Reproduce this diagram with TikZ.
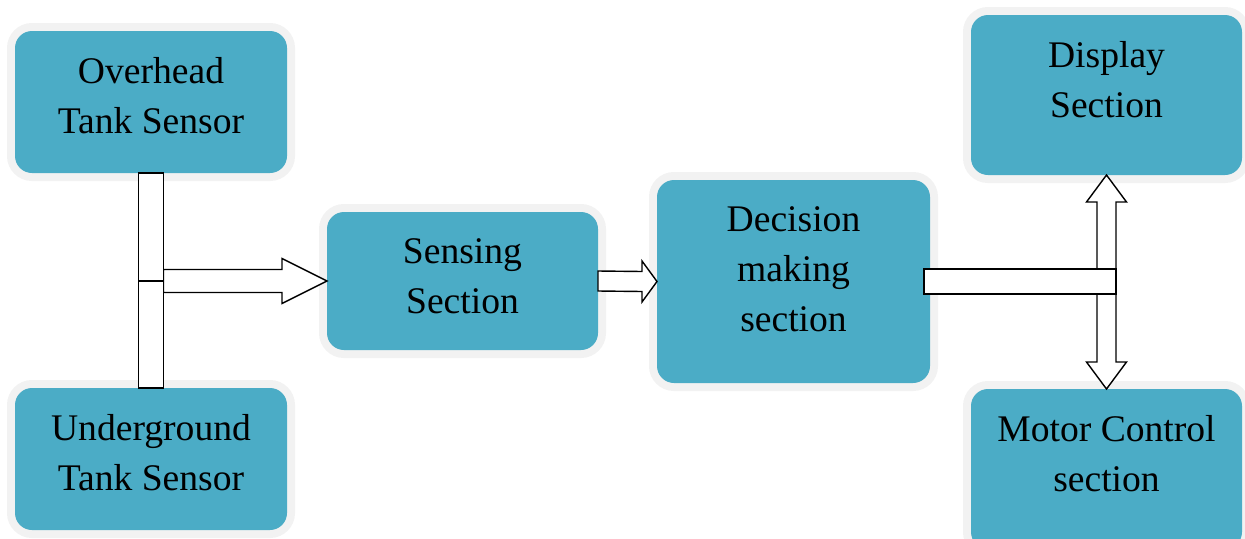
\documentclass[tikz,border=0pt]{standalone}
\usepackage{fontspec}
\setmainfont{Liberation Serif}
\usetikzlibrary{positioning}
\definecolor{boxblue}{HTML}{4BACC6}

\begin{document}
\begin{tikzpicture}[
        x=0.02cm, y=-0.02cm,
        block/.style={
            % The shape:
            rectangle,
            rounded corners=0.34cm,
            outer sep=0pt,
            % The border (a pale halo)
            preaction={draw=black!5, line width=0.32cm},
            % The filling
            fill=boxblue
        },
        caption/.style={
            inner sep=0pt,
            align=center,
            % Font
            font=\fontsize{21.4}{28.4}\selectfont
        },
        pipe/.style={
            % The border
            thick,
            draw=black,
            % The filling
            fill=white
        }]

        \useasboundingbox (0,0) rectangle (1245,538);

        \foreach \name/\x/\y/\w/\h/\words in {
            over/151/102/272/142/{Overhead\\Tank Sensor},
            under/151/459/272/142/{Underground\\Tank Sensor},
            sens/462.5/281/271/138/{Sensing\\Section},
            dec/793.5/281.5/273/203/{Decision\\making\\section},
            disp/1106.5/95/271/160/{Display\\Section},
            motor/1106.5/469/271/160/{Motor Control\\section}}
        {
            \node [block, minimum width=\w*0.02cm, minimum height=\h*0.02cm] (\name) at (\x,\y) {};
            \node [caption, below=0.52cm of \name.north] (\name-text) {\words};
        }

        % joints on the pipes
        \coordinate (join) at (over.south |- sens.west);
        \coordinate (fork) at (disp.south |- dec.east);

        % sensors -> sensing section
        \draw [pipe] ([shift={(12.5,-11.5)}]join) -- ([shift={(-45,-11.5)}]sens.west) -- ([shift={(-45,-22.5)}]sens.west) -- (sens.west)
            -- ([shift={(-45,22.5)}]sens.west) -- ([shift={(-45,11.5)}]sens.west) -- ([shift={(12.5,11.5)}]join) -- cycle;
        \draw [pipe] ([xshift=-0.25cm]over.south) rectangle ([xshift=0.25cm]join);
        \draw [pipe] ([xshift=-0.25cm]join) rectangle ([xshift=0.25cm]under.north);

        % sensing -> decision
        \draw [pipe] ([shift={(0,-10)}]sens.east) -- ([shift={(-15,-10)}]dec.west) -- ([shift={(-15,-20.5)}]dec.west) -- (dec.west)
            -- ([shift={(-15,20.5)}]dec.west) -- ([shift={(-15,10)}]dec.west) -- ([shift={(0,10)}]sens.east) -- cycle;

        % decision -> display and motor control
        \draw [pipe] (disp.south) -- ([shift={(20,27)}]disp.south) -- ([shift={(9.5,27)}]disp.south) -- ([shift={(9.5,-27)}]motor.north)
            -- ([shift={(20,-27)}]motor.north) -- (motor.north) -- ([shift={(-20,-27)}]motor.north) -- ([shift={(-9.5,-27)}]motor.north)
            -- ([shift={(-9.5,27)}]disp.south) -- ([shift={(-20,27)}]disp.south) -- cycle;
        \draw [pipe] ([shift={(-6,-12.5)}]dec.east) rectangle ([shift={(9.5,12.5)}]fork);

    \end{tikzpicture}
\end{document}
